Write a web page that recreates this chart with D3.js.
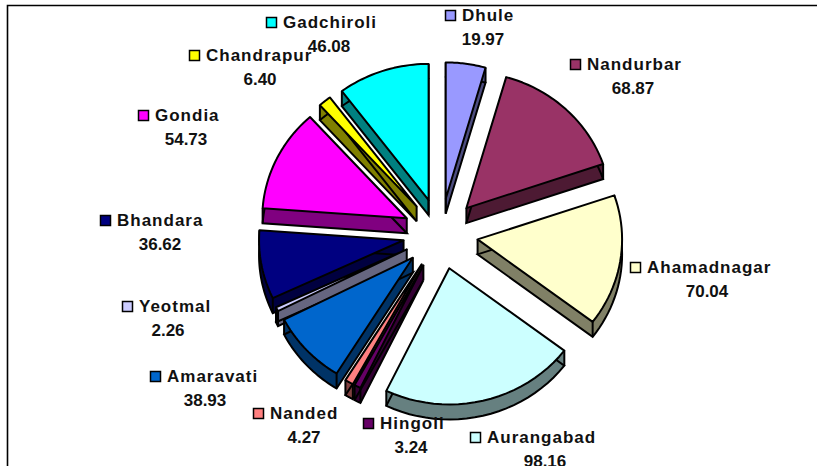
<!doctype html>
<html>
<head>
  <style>
    html, body { margin: 0; padding: 0; background: #fff; overflow: hidden; }
    text { font-family: "Liberation Sans", Arial, sans-serif; font-weight: bold; font-size: 17px; fill: #111; }
    text.name { letter-spacing: 1px; }
  </style>
  <script src="https://cdn.jsdelivr.net/npm/d3@7"></script>
</head>
<body>
  <script>
  // data
  var districts = ["Dhule", "Nandurbar", "Ahamadnagar", "Aurangabad", "Hingoli", "Nanded", "Amaravati", "Yeotmal", "Bhandara", "Gondia", "Chandrapur", "Gadchiroli"];
  var values = [19.97, 68.87, 70.04, 98.16, 3.24, 4.27, 38.93, 2.26, 36.62, 54.73, 6.40, 46.08];
  var colors = ["#9999ff", "#993366", "#ffffcc", "#ccffff", "#660066", "#ff8080", "#0066cc", "#ccccff", "#000080", "#ff00ff", "#ffff00", "#00ffff"];

  // where each legend key + label sits: [key left, row centre y, value centre x]
  var labelSpots = [
    [445, 15, 483], [570, 64, 633], [630, 267, 707], [470, 437, 545],
    [363, 423, 411], [253, 413, 304], [150, 376, 205], [122, 306, 168],
    [100, 220, 160], [138, 115, 186], [189, 55, 260], [266, 22, 329]
  ];

  var svgW = 817, svgH = 466;
  var depth = 15;      // height of the 3d pie
  var explode = 0.26;  // slice pull-out, as a share of the radius

  var svg = d3.select("body").append("svg")
    .attr("width", svgW)
    .attr("height", svgH)
    .style("display", "block");

  // chart border, only left and top are inside the crop
  svg.append("path")
    .attr("d", "M7.5,466V5.5H817")
    .attr("fill", "none")
    .attr("stroke", "#000")
    .attr("stroke-width", 1.6);

  // unit circle -> squashed pie on the page
  var x = d3.scaleLinear().domain([-1, 1]).range([296, 585]);
  var y = d3.scaleLinear().domain([-1, 1]).range([97.5, 370]);

  var pie = d3.pie().sort(null)(values);

  function slicePoints(d) {
    var mid = (d.startAngle + d.endAngle) / 2;
    var ox = explode * Math.sin(mid), oy = -explode * Math.cos(mid);
    var pts = [[x(ox), y(oy)]];
    d3.range(0, 1.0001, 1 / 24).forEach(function(t) {
      var a = d.startAngle + t * (d.endAngle - d.startAngle);
      pts.push([x(ox + Math.sin(a)), y(oy - Math.cos(a))]);
    });
    return pts;
  }

  function sideColor(c) {
    var r = d3.rgb(c);
    return d3.rgb(r.r / 2, r.g / 2, r.b / 2).formatHex();
  }

  var line = d3.line();

  // back slices first so the front ones paint over them
  var order = pie.slice().sort(function(a, b) {
    return Math.cos((b.startAngle + b.endAngle) / 2) - Math.cos((a.startAngle + a.endAngle) / 2);
  });

  var slices = svg.selectAll("g.slice")
    .data(order)
    .enter()
    .append("g")
    .attr("class", "slice");

  slices.each(function(d) {
    var g = d3.select(this);
    var pts = slicePoints(d);
    var n = pts.length;
    // side walls, one quad per polygon edge
    d3.range(n).forEach(function(i) {
      var p = pts[i], q = pts[(i + 1) % n];
      g.append("path")
        .attr("d", line([p, q, [q[0], q[1] + depth], [p[0], p[1] + depth]]) + "Z")
        .attr("fill", sideColor(colors[d.index]))
        .attr("stroke", "none");
    });
    // outline of the walls: bottom rim and the two ends
    g.append("path")
      .attr("d", line(pts.map(function(p) { return [p[0], p[1] + depth]; })) + "Z")
      .attr("fill", sideColor(colors[d.index]))
      .attr("stroke", "#000")
      .attr("stroke-width", 2);
    [0, 1, n - 1].forEach(function(i) {
      g.append("path")
        .attr("d", line([pts[i], [pts[i][0], pts[i][1] + depth]]))
        .attr("stroke", "#000")
        .attr("stroke-width", 2);
    });
    // top face
    g.append("path")
      .attr("d", line(pts) + "Z")
      .attr("fill", colors[d.index])
      .attr("stroke", "#000")
      .attr("stroke-width", 2)
      .attr("stroke-linejoin", "round");
  });

  // labels go on top of the pie
  var labels = svg.selectAll("g.label")
    .data(districts)
    .enter()
    .append("g")
    .attr("class", "label");

  labels.append("rect")
    .attr("x", function(d, i) { return labelSpots[i][0] + 0.5; })
    .attr("y", function(d, i) { return labelSpots[i][1] - 4.5; })
    .attr("width", 10)
    .attr("height", 10)
    .attr("fill", function(d, i) { return colors[i]; })
    .attr("stroke", "#000")
    .attr("stroke-width", 1.5);

  labels.append("text")
    .attr("class", "name")
    .attr("x", function(d, i) { return labelSpots[i][0] + 17; })
    .attr("y", function(d, i) { return labelSpots[i][1] + 6; })
    .text(function(d) { return d; });

  labels.append("text")
    .attr("x", function(d, i) { return labelSpots[i][2]; })
    .attr("y", function(d, i) { return labelSpots[i][1] + 30; })
    .attr("text-anchor", "middle")
    .text(function(d, i) { return values[i].toFixed(2); });
  </script>
</body>
</html>
